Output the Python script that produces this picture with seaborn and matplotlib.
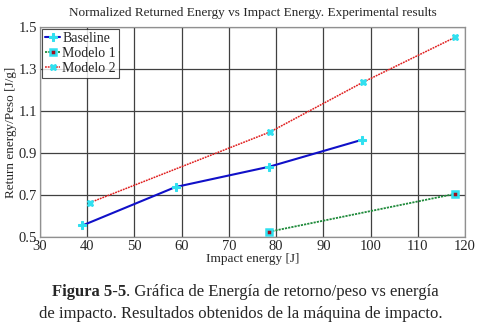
import matplotlib
matplotlib.use("Agg")
import matplotlib.pyplot as plt
import pandas as pd
import seaborn as sns

# data
baseline_x = [39.0, 58.7, 78.6, 98.2]
baseline_y = [0.555, 0.738, 0.835, 0.963]
modelo1_x = [78.5, 117.8]
modelo1_y = [0.525, 0.705]
modelo2_x = [40.5, 78.7, 98.4, 117.9]
modelo2_y = [0.663, 1.000, 1.237, 1.451]
x_ticks = [30, 40, 50, 60, 70, 80, 90, 100, 110, 120]
y_ticks = [0.5, 0.7, 0.9, 1.1, 1.3, 1.5]

sns.set_style("white")
plt.rcParams["font.family"] = ["Liberation Serif", "DejaVu Serif"]

W, H = 482, 326
fig = plt.figure(figsize=(W / 100, H / 100), dpi=100)
ax = fig.add_axes([40 / W, 1 - 237 / H, 425 / W, 210 / H])

df_b = pd.DataFrame({"x": baseline_x, "y": baseline_y})
df_1 = pd.DataFrame({"x": modelo1_x, "y": modelo1_y})
df_2 = pd.DataFrame({"x": modelo2_x, "y": modelo2_y})

sns.lineplot(df_b, x="x", y="y", ax=ax, color="#1010c8", lw=1.5, marker="P",
             markersize=5.5, markerfacecolor="#30e0f0", markeredgecolor="#30e0f0",
             label="Baseline")
sns.lineplot(df_1, x="x", y="y", ax=ax, color="#1e8a3a", lw=1.3, linestyle=(0, (1.2, 0.6)),
             marker="s", markersize=5, markerfacecolor="#a01020", markeredgecolor="#30e0f0",
             markeredgewidth=1.8, label="Modelo 1")
sns.lineplot(df_2, x="x", y="y", ax=ax, color="#e02020", lw=1.1, linestyle=(0, (1.2, 0.6)),
             marker="X", markersize=5, markerfacecolor="#30e0f0", markeredgecolor="#30e0f0",
             label="Modelo 2")

ax.set_xlim(30, 120)
ax.set_ylim(0.5, 1.5)
ax.set_xticks(x_ticks)
ax.set_yticks(y_ticks)
ax.set_yticklabels([f"{v:.1f}" for v in y_ticks])
ax.grid(True, color="#404040", lw=0.9)
ax.tick_params(length=0, labelsize=10.5, pad=2)
for s in ax.spines.values():
    s.set_color("#909090")
    s.set_linewidth(0.9)

ax.set_title("Normalized Returned Energy vs Impact Energy. Experimental results",
             fontsize=9.5, pad=8)
ax.set_xlabel("Impact energy [J]", fontsize=9.5, labelpad=0)
ax.set_ylabel("Return energy/Peso [J/g]", fontsize=9.5, labelpad=1)

leg = ax.legend(loc="upper left", fontsize=10, frameon=True, fancybox=False,
                handlelength=1.1, handletextpad=0.15, borderpad=0.2, labelspacing=0.15,
                borderaxespad=0.15)
leg.get_frame().set_edgecolor("#202020")
leg.get_frame().set_linewidth(0.8)

# caption with bold figure number
fig.canvas.draw()
r = fig.canvas.get_renderer()
cap_size = 12
bold = "Figura 5-5"
rest1 = ". Gráfica de Energía de retorno/peso vs energía"
line2 = "de impacto. Resultados obtenidos de la máquina de impacto."
t1 = fig.text(0, 0, bold, fontsize=cap_size, fontweight="bold")
t2 = fig.text(0, 0, rest1, fontsize=cap_size)
w1 = t1.get_window_extent(r).width
w2 = t2.get_window_extent(r).width
x0 = (245 - (w1 + w2) / 2)
y1 = 1 - 296 / H
t1.set_position((x0 / W, y1))
t2.set_position(((x0 + w1) / W, y1))
fig.text(241 / W, 1 - 318 / H, line2, fontsize=cap_size, ha="center")

fig.savefig("out.png", dpi=100)
